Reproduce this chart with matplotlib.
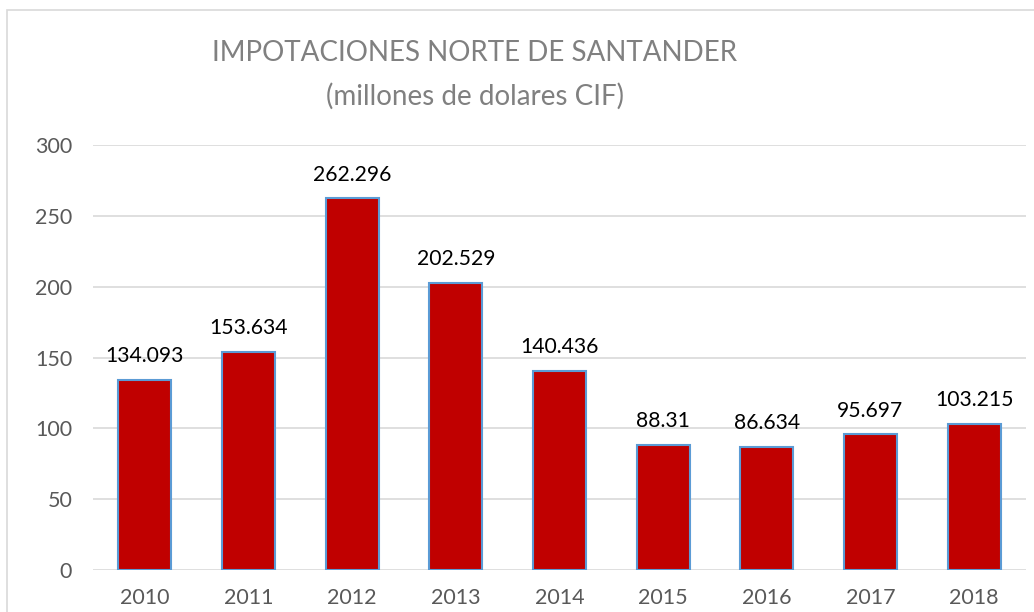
"""
Importaciones Norte de Santander, bar chart
"""

import matplotlib

matplotlib.use("Agg")
import matplotlib.pyplot as plt
from matplotlib.patches import Rectangle

years = ["2010", "2011", "2012", "2013", "2014", "2015", "2016", "2017", "2018"]
values = [134.093, 153.634, 262.296, 202.529, 140.436, 88.31, 86.634, 95.697, 103.215]
labels = ["134.093", "153.634", "262.296", "202.529", "140.436", "88.31", "86.634", "95.697", "103.215"]
yticks = [0, 50, 100, 150, 200, 250, 300]

plt.rcParams["font.family"] = ["Lato", "DejaVu Sans"]

fig = plt.figure(figsize=(10.34, 6.12), dpi=100)
ax = fig.add_axes([93 / 1034, 1 - 570 / 612, (1026 - 93) / 1034, (570 - 145) / 612])

# Chart frame like the Excel chart area (runs off the bottom/right edges)
fig.patches.append(
    Rectangle((7 / 1034, -0.1), 1.1, 1.1 - 10 / 612, transform=fig.transFigure,
              fill=False, edgecolor="#D9D9D9", linewidth=1.2)
)

x = range(len(years))
ax.bar(x, values, width=0.51, color="#C00000", edgecolor="#5B9BD5", linewidth=1.5, zorder=3)

for xi, v, lab in zip(x, values, labels):
    ax.annotate(lab, (xi, v), xytext=(0, 10), textcoords="offset points",
                ha="center", va="bottom", fontsize=15.2, color="black")

ax.set_ylim(0, 300)
ax.set_xlim(-0.5, len(years) - 0.5)
ax.set_yticks(yticks)
ax.set_xticks(list(x))
ax.set_xticklabels(years)
ax.yaxis.grid(True, color="#D9D9D9", linewidth=1.2, zorder=0)
ax.tick_params(length=0, labelsize=15.5, labelcolor="#595959")
ax.tick_params(axis="y", pad=15)
ax.tick_params(axis="x", pad=13)
for s in ax.spines.values():
    s.set_visible(False)

fig.text(475 / 1034, 1 - 53 / 612, "IMPOTACIONES NORTE DE SANTANDER",
         ha="center", va="center", fontsize=20, color="#808080")
fig.text(475 / 1034, 1 - 96 / 612, "(millones de dolares CIF)",
         ha="center", va="center", fontsize=20, color="#808080")

fig.savefig("out.png", dpi=100)
